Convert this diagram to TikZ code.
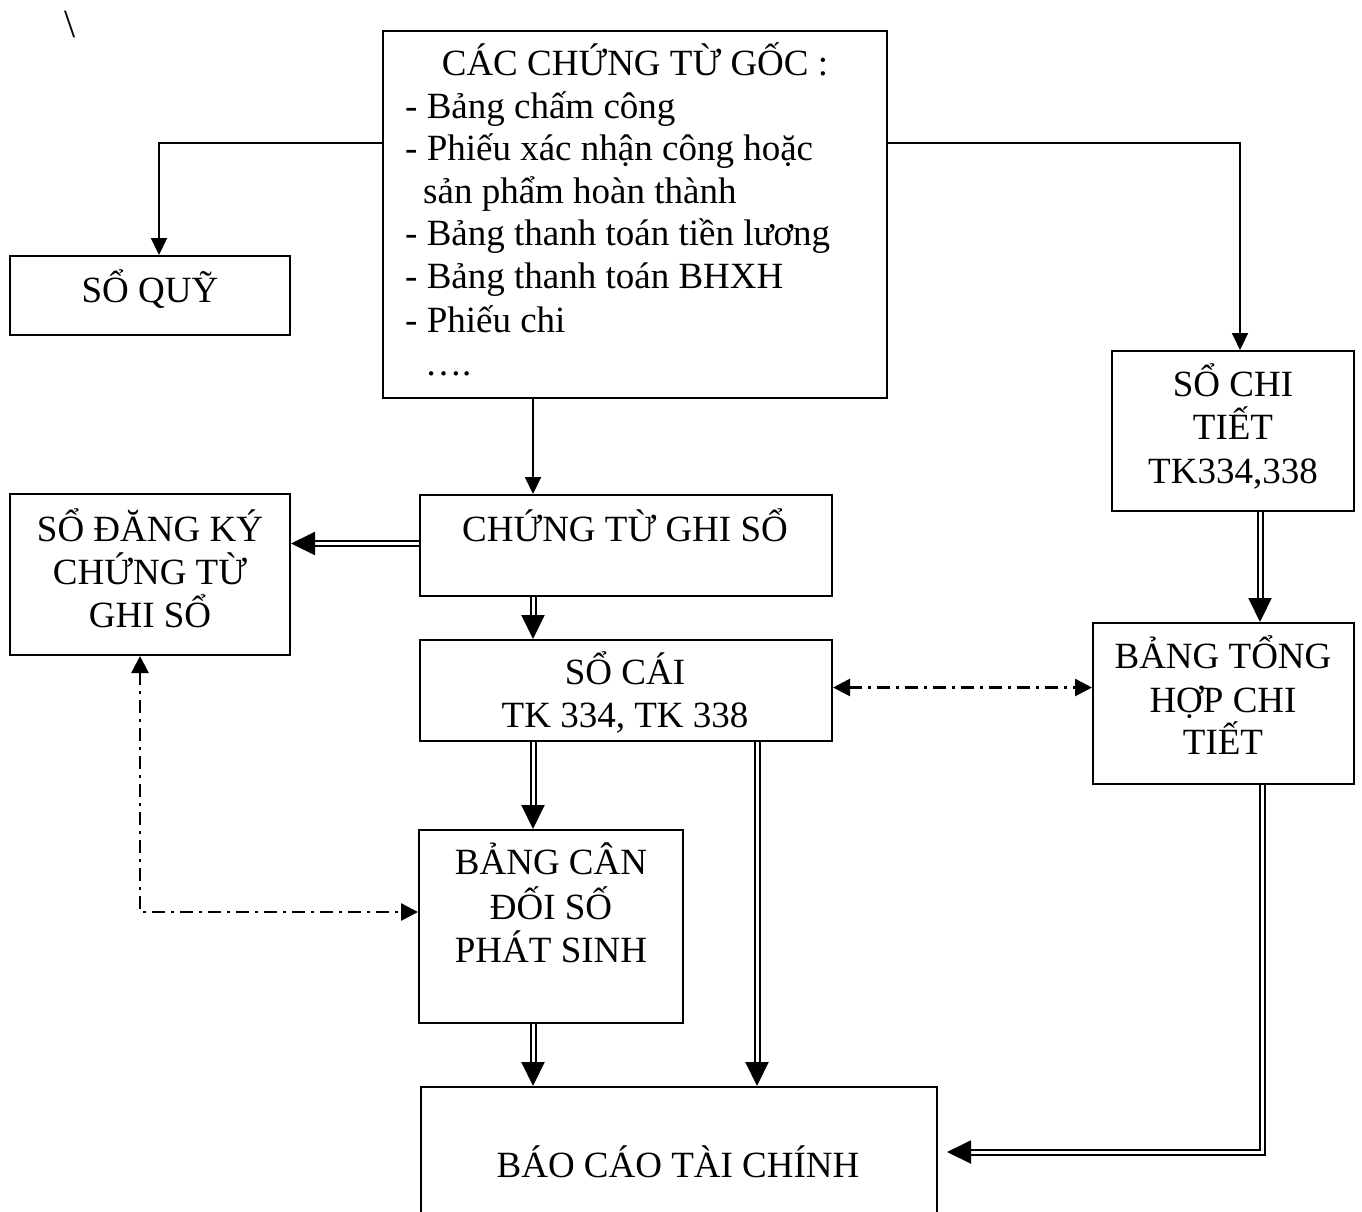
\documentclass[tikz,border=0pt]{standalone}
\usepackage{fontspec}
\setmainfont{Liberation Serif}
\usetikzlibrary{arrows.meta}
\begin{document}
\begin{tikzpicture}[x=1pt,y=-1pt,
  box/.style={draw, line width=2pt, inner sep=0pt},
  txt/.style={anchor=base, inner sep=0pt, font=\fontsize{37}{43}\selectfont},
  ltxt/.style={anchor=base west, inner sep=0pt, font=\fontsize{37}{43}\selectfont},
  connone/.style={line width=2pt, -{Triangle[length=17pt,width=16pt]}},
  conntwo/.style={double, double distance=3pt, line width=2pt, -{Triangle[length=24pt,width=23pt]}},
  connthree/.style={line width=2.6pt, dash pattern=on 13pt off 6pt on 3pt off 6pt, {Triangle[length=17pt,width=17pt]}-{Triangle[length=17pt,width=17pt]}},
]
\useasboundingbox[fill=white] (0,0) rectangle (1362,1211);

% boxes
\node[box, minimum width=504pt, minimum height=367pt] (src) at (635,214.5) {};
\node[box, minimum width=280pt, minimum height=79pt] (quy) at (150,295.5) {};
\node[box, minimum width=280pt, minimum height=161pt] (dk) at (150,574.5) {};
\node[box, minimum width=412pt, minimum height=101pt] (ctgs) at (626,545.5) {};
\node[box, minimum width=412pt, minimum height=101pt] (socai) at (626,690.5) {};
\node[box, minimum width=264pt, minimum height=193pt] (bcd) at (551,926.5) {};
\node[box, minimum width=516pt, minimum height=138pt] (bctc) at (679,1156) {};
\node[box, minimum width=242pt, minimum height=160pt] (chitiet) at (1233,431) {};
\node[box, minimum width=261pt, minimum height=161pt] (tonghop) at (1223.5,703.5) {};

% stray mark
\node[txt, font=\fontsize{40}{43}\selectfont] (bs) at (70,37) {\textbackslash};

% texts
\node[txt] (s0) at (635,75) {CÁC CHỨNG TỪ GỐC :};
\node[ltxt] (s1) at (405,118) {- Bảng chấm công};
\node[ltxt] (s2) at (405,160) {- Phiếu xác nhận công hoặc};
\node[ltxt] (s3) at (423,203) {sản phẩm hoàn thành};
\node[ltxt] (s4) at (405,245) {- Bảng thanh toán tiền lương};
\node[ltxt] (s5) at (405,288) {- Bảng thanh toán BHXH};
\node[ltxt] (s6) at (405,332) {- Phiếu chi};
\node[ltxt] (s7) at (425,375) {….};

\node[txt] (q1) at (150,302) {SỔ QUỸ};

\node[txt] (d1) at (150,541) {SỔ ĐĂNG KÝ};
\node[txt] (d2) at (150,584) {CHỨNG TỪ};
\node[txt] (d3) at (150,627) {GHI SỔ};

\node[txt] (c1) at (625,541) {CHỨNG TỪ GHI SỔ};

\node[txt] (k1) at (625,684) {SỔ CÁI};
\node[txt] (k2) at (625,727) {TK 334, TK 338};

\node[txt] (h1) at (1233,396) {SỔ CHI};
\node[txt] (h2) at (1233,439) {TIẾT};
\node[txt] (h3) at (1233,483) {TK334,338};

\node[txt] (t1) at (1223,668) {BẢNG TỔNG};
\node[txt] (t2) at (1223,712) {HỢP CHI};
\node[txt] (t3) at (1223,754) {TIẾT};

\node[txt] (b1) at (551,874) {BẢNG CÂN};
\node[txt] (b2) at (551,919) {ĐỐI SỐ};
\node[txt] (b3) at (551,962) {PHÁT SINH};

\node[txt] (f1) at (678,1177) {BÁO CÁO TÀI CHÍNH};

% helper x positions
\coordinate (xA) at (533,0);
\coordinate (xB) at (757,0);
\coordinate (xC) at (1260,0);
\coordinate (xD) at (1262,0);

% connectors
\draw[connone] ([yshift=71.5pt]src.west) -| ([xshift=9pt]quy.north);
\draw[connone] ([yshift=71.5pt]src.east) -| ([xshift=7pt]chitiet.north);
\draw[connone] (src.south -| xA) -- (ctgs.north -| xA);
\draw[conntwo] (ctgs.south -| xA) -- (socai.north -| xA);
\draw[conntwo] ([yshift=2pt]ctgs.west) -- ([yshift=2pt]ctgs.west -| dk.east);
\draw[connthree] ([yshift=3pt]socai.east) -- ([yshift=3pt]socai.east -| tonghop.west);
\draw[connthree] ([xshift=-10pt]dk.south) |- ([yshift=14.5pt]bcd.west);
\draw[conntwo] (socai.south -| xA) -- (bcd.north -| xA);
\draw[conntwo] (bcd.south -| xA) -- (bctc.north -| xA);
\draw[conntwo] (socai.south -| xB) -- (bctc.north -| xB);
\draw[conntwo] (chitiet.south -| xC) -- (tonghop.north -| xC);
\draw[conntwo] (tonghop.south -| xD) |- ([shift={(9pt,4pt)}]bctc.east);
\end{tikzpicture}
\end{document}
